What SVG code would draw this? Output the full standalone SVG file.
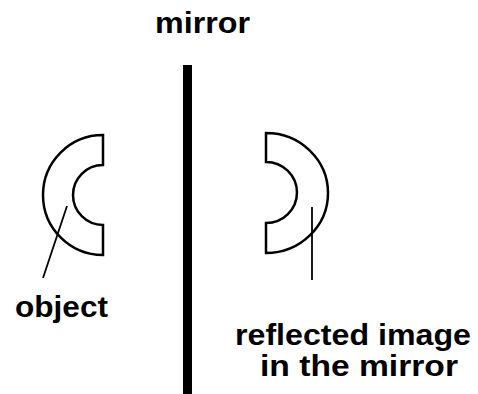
<svg xmlns="http://www.w3.org/2000/svg" width="478" height="394" viewBox="0 0 478 394">
  <style>
    .lbl { font-family: "Liberation Sans", Arial, sans-serif; font-weight: bold; font-size: 30px; fill: #000; }
    .shape { fill: #fff; stroke: #000; stroke-width: 2.5; stroke-linejoin: miter; }
    .lead { stroke: #000; stroke-width: 1.8; fill: none; }
  </style>
  <rect width="478" height="394" fill="#fff"/>
  <g id="mirror">
    <rect x="183" y="65" width="9" height="329" fill="#000"/>
    <text class="lbl" x="155" y="33" textLength="95" lengthAdjust="spacingAndGlyphs">mirror</text>
  </g>
  <g id="object">
    <path class="shape" d="M103,135 A60,60 0 0 0 103,255 L103,225 A30,30 0 0 1 103,165 Z"/>
    <text class="lbl" x="15" y="317" textLength="93" lengthAdjust="spacingAndGlyphs">object</text>
  </g>
  <g id="image">
    <path class="shape" d="M266,133 A62,60 0 0 1 266,253 L266,223 A31,30.5 0 0 0 266,162 Z"/>
    <text class="lbl" x="235" y="345" textLength="236" lengthAdjust="spacingAndGlyphs">reflected image</text>
    <text class="lbl" x="260" y="376" textLength="198" lengthAdjust="spacingAndGlyphs">in the mirror</text>
  </g>
  <g id="connectors">
    <line class="lead" x1="67" y1="206" x2="43" y2="278"/>
    <line class="lead" x1="312" y1="207" x2="312" y2="280"/>
  </g>
</svg>
